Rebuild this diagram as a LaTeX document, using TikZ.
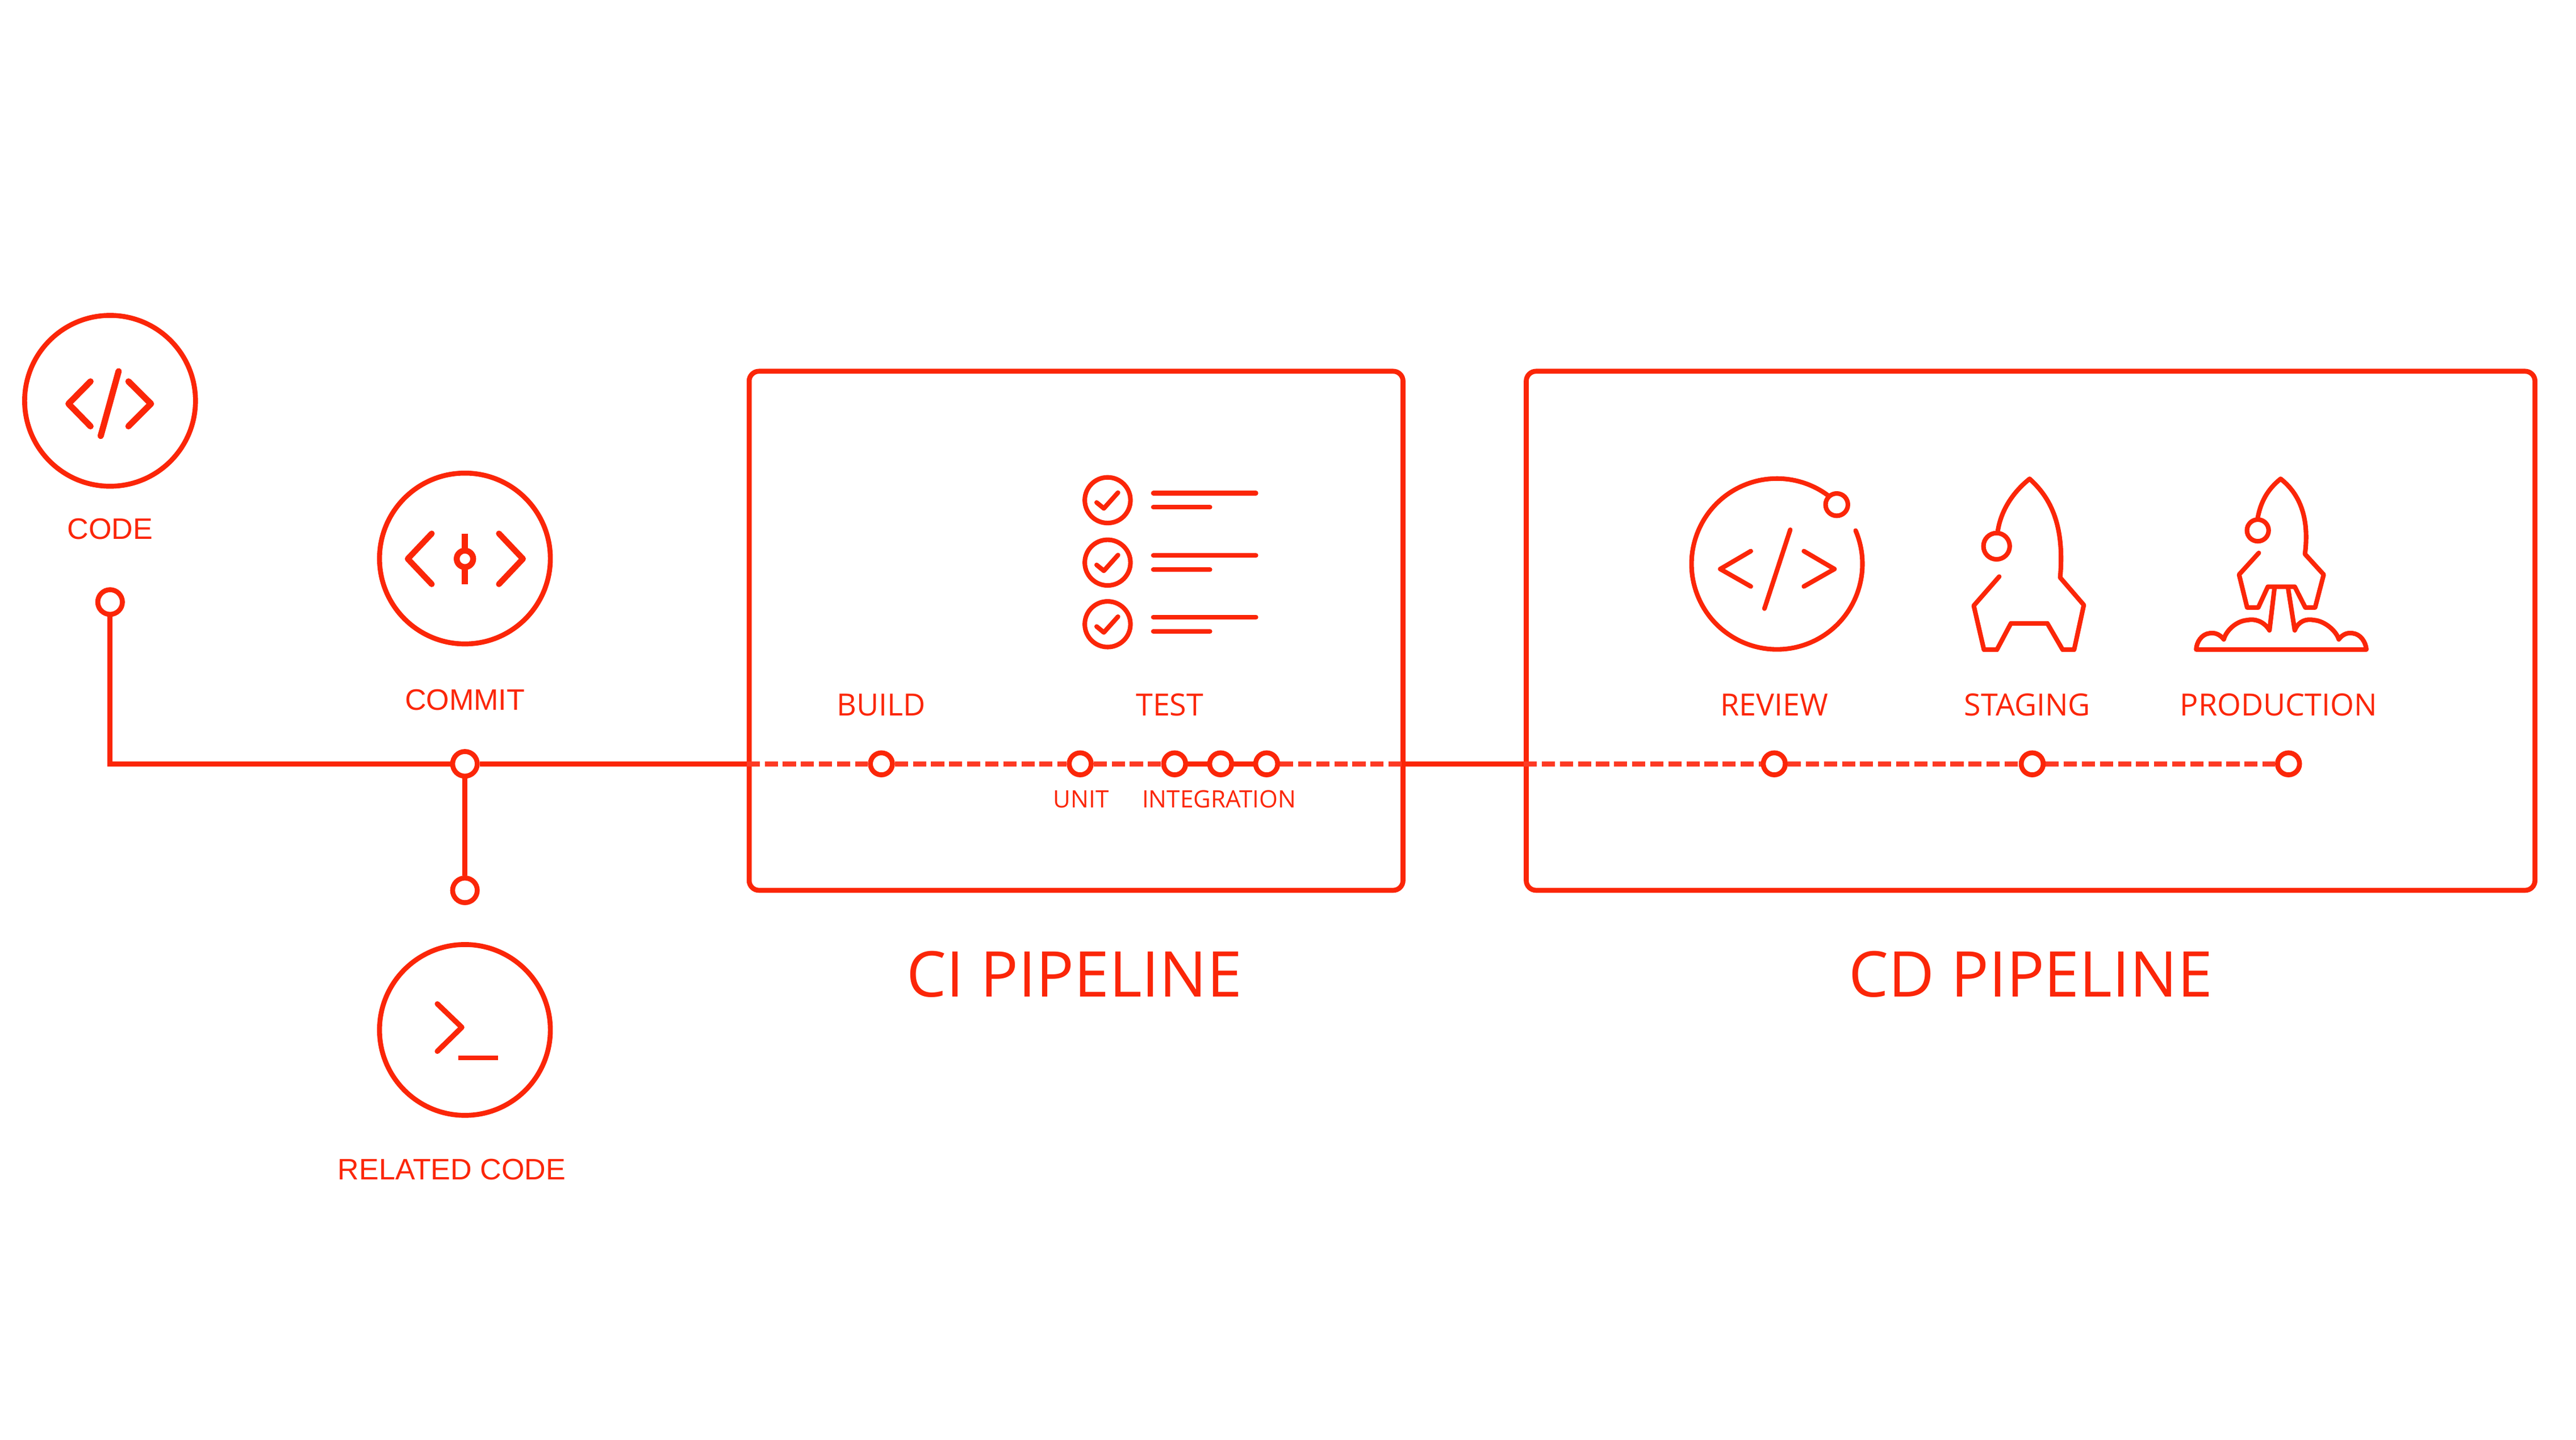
\documentclass[tikz,border=0pt]{standalone}
\usepackage{fontspec}
\setmainfont{Open Sans}
\newfontfamily\helv{Liberation Sans}
\definecolor{pipered}{RGB}{251,38,8}
\definecolor{dashred}{RGB}{253,58,36}
\tikzset{
  iconline/.style={draw=pipered, line width=2.8pt, line cap=round, line join=round},
  bigring/.style={circle, draw=pipered, line width=3pt, inner sep=0pt, minimum size=104pt},
  dot/.style={circle, draw=pipered, fill=white, line width=3pt, inner sep=0pt, minimum size=15pt},
  stopdot/.style={dot, minimum size=13.4pt},
  pipebox/.style={draw=pipered, line width=3pt, rounded corners=6pt, inner sep=0pt},
  solidline/.style={draw=pipered, line width=3pt},
  dashline/.style={draw=dashred, line width=3pt, dash pattern=on 8pt off 3pt},
  sidelabel/.style={text=pipered, font=\helv\fontsize{18}{18}\selectfont},
  stagelabel/.style={text=pipered, font=\fontsize{18.6}{19}\selectfont},
  sublabel/.style={text=pipered, font=\fontsize{14.6}{15}\selectfont},
  pipelabel/.style={text=pipered, font=\fontsize{38.4}{39}\selectfont}
}
\begin{document}
\begin{tikzpicture}[x=1pt, y=-1pt]
  \useasboundingbox (0,0) rectangle (1568,876.6);

  % pipeline boxes
  \node[pipebox, minimum width=398pt, minimum height=316pt] (cibox) at (655,384) {};
  \node[pipebox, minimum width=614pt, minimum height=316pt] (cdbox) at (1236,384) {};
  \node[pipelabel] (cititle) at (654,593) {CI PIPELINE};
  \node[pipelabel] (cdtitle) at (1236,593) {CD PIPELINE};

  % left side
  \node[bigring] (codering) at (67,244) {};
  \node[sidelabel] (codelabel) at (67,322) {CODE};
  \node[dot] (codedot) at (67,366.5) {};
  \node[bigring] (commitring) at (283,340) {};
  \node[sidelabel] (commitlabel) at (283,426) {COMMIT};
  \node[dot] (commitdot) at (283,465) {};
  \node[dot] (relateddot) at (283,542) {};
  \node[bigring] (relatedring) at (283,627) {};
  \node[sidelabel] (relatedlabel) at (275,712) {RELATED CODE};

  % stops on the line
  \node[stopdot] (build) at (536.5,465) {};
  \node[stopdot] (unit) at (657.5,465) {};
  \node[stopdot] (inta) at (715,465) {};
  \node[stopdot] (intb) at (743,465) {};
  \node[stopdot] (intc) at (771,465) {};
  \node[stopdot] (review) at (1080,465) {};
  \node[stopdot] (staging) at (1237,465) {};
  \node[stopdot] (production) at (1393,465) {};
  \coordinate (ciin) at (cibox.west |- build);
  \coordinate (ciout) at (cibox.east |- build);
  \coordinate (cdin) at (cdbox.west |- build);

  \draw[solidline] (codedot) |- (commitdot);
  \draw[solidline] (commitdot) -- (relateddot);
  \draw[solidline] (commitdot) -- (ciin);
  \draw[dashline] (ciin) -- (build);
  \draw[dashline] (build) -- (unit);
  \draw[dashline] (unit) -- (inta);
  \draw[solidline] (inta) -- (intb);
  \draw[solidline] (intb) -- (intc);
  \draw[dashline] (intc) -- (ciout);
  \draw[solidline] (ciout) -- (cdin);
  \draw[dashline] (cdin) -- (review);
  \draw[dashline] (review) -- (staging);
  \draw[dashline] (staging) -- (production);

  % labels
  \node[stagelabel] (buildlabel) at (536.5,429) {BUILD};
  \node[stagelabel] (testlabel) at (712,429) {TEST};
  \node[stagelabel] (reviewlabel) at (1080,429) {REVIEW};
  \node[stagelabel] (staginglabel) at (1234,429) {STAGING};
  \node[stagelabel] (productionlabel) at (1387,429) {PRODUCTION};
  \node[sublabel] (unitlabel) at (658,486.5) {UNIT};
  \node[sublabel] (intlabel) at (742,486.5) {INTEGRATION};

  % code icon
  \draw[iconline, line width=3.8pt] (55.1,232.2) -- (41.7,245.8) -- (55.1,259.5);
  \draw[iconline, line width=3.8pt] (78.2,232.2) -- (91.9,245.8) -- (78.2,259.5);
  \draw[iconline, line width=3.8pt] (72.2,226) -- (61.3,265.4);

  % commit icon
  \draw[iconline, line width=3.6pt] (262.8,324.8) -- (248.2,340.2) -- (262.8,355.6);
  \draw[iconline, line width=3.6pt] (303.7,324.8) -- (318.3,340.2) -- (303.7,355.6);
  \draw[iconline, line width=3.6pt, line cap=butt] (283,324.8) -- (283,335.2);
  \draw[iconline, line width=3.6pt, line cap=butt] (283,345.2) -- (283,355.6);
  \draw[iconline, line width=3.6pt] (283,340.2) circle (5pt);

  % related code icon
  \draw[iconline, line width=3.2pt] (266.2,611.1) -- (281.1,625.4) -- (266.2,640);
  \draw[iconline, line width=2.8pt, line cap=butt] (279,643.9) -- (303.2,643.9);

  % test list
  \foreach \cy in {304.5,342.5,380} {
    \draw[iconline] (674.2,\cy) circle (13.9pt);
    \draw[iconline] (667.5,\cy+1.4) -- (671.9,\cy+5) -- (680.5,\cy-4.6);
    \draw[iconline] (702,\cy-4.3) -- (764.5,\cy-4.3);
    \draw[iconline] (702,\cy+4.3) -- (736.5,\cy+4.3);
  }

  % review icon
  \draw[iconline] (1129.5,323) arc[start angle=23, end angle=-315, radius=52pt];
  \draw[iconline, fill=white] (1118,307.2) circle (6.8pt);
  \draw[iconline] (1065.7,335.5) -- (1047.1,346.4) -- (1065.7,357);
  \draw[iconline] (1098,335.5) -- (1116.6,346.4) -- (1098,357);
  \draw[iconline] (1089.7,322.5) -- (1074,370.5);

  % staging rocket
  \draw[iconline] (1216,323.5) .. controls (1218,310) and (1226,299) .. (1235.4,291.5)
    .. controls (1247,302) and (1257,318) .. (1254,351.6)
    -- (1268.4,368.3) -- (1262.5,395.5) -- (1255.5,395.5) -- (1246.2,379.5) -- (1224,379.5)
    -- (1215.5,395.5) -- (1207.6,395.5) -- (1201.4,368.7) -- (1216.9,351);
  \draw[iconline, fill=white] (1215.3,332.5) circle (8pt);

  % production rocket
  \draw[iconline] (1374.3,315) .. controls (1376,306) and (1380,298) .. (1388.2,291.5)
    .. controls (1399,300) and (1406,314) .. (1403,337.3)
    -- (1414.4,349.8) -- (1409.2,369.8) -- (1403.2,369.8) -- (1396.8,357.2) -- (1380.4,357.2)
    -- (1374.6,369.8) -- (1367.8,369.8) -- (1362.9,349.8) -- (1374.9,336.6);
  \draw[iconline, fill=white] (1374.3,322.9) circle (6.6pt);
  \draw[iconline] (1384.4,358.5) -- (1381.4,383.7)
    .. controls (1378,378) and (1372,376.5) .. (1368,377.5)
    .. controls (1361,378) and (1355,384) .. (1353.6,389.2)
    .. controls (1351,386) and (1348,385) .. (1345,385.5)
    .. controls (1340,386) and (1337,391) .. (1336.8,395.4)
    -- (1440.4,395.4)
    .. controls (1440,391) and (1437,386) .. (1432,385.5)
    .. controls (1429,385) and (1426,386) .. (1423.6,389.2)
    .. controls (1422,384) and (1415,378) .. (1408.5,377.5)
    .. controls (1404,376.5) and (1399,378) .. (1396.8,383.7)
    -- (1392.8,358.5);
\end{tikzpicture}
\end{document}
